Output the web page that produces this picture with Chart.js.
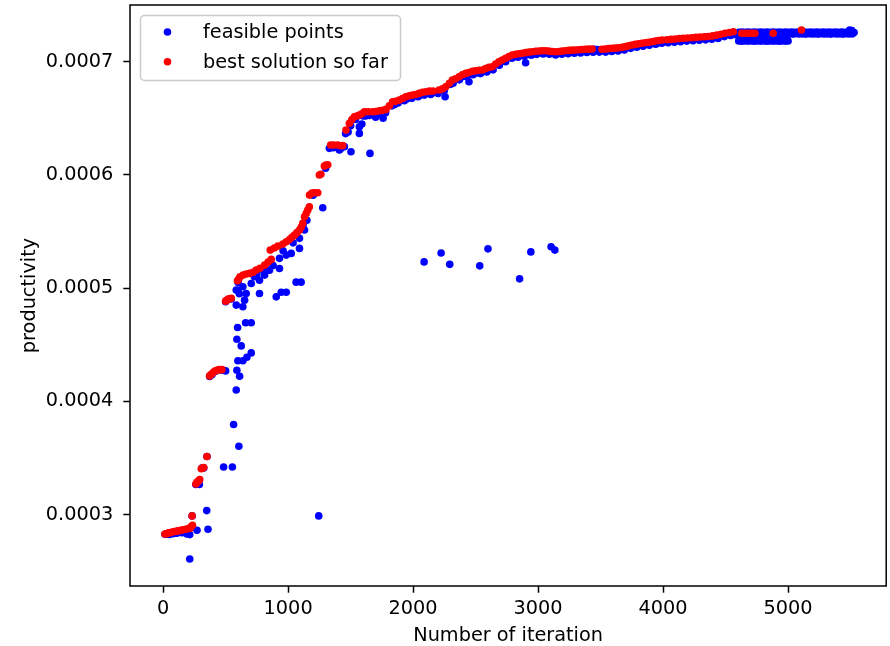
<!DOCTYPE html>
<html>
<head>
<meta charset="utf-8">
<script src="https://cdn.jsdelivr.net/npm/chart.js@4"></script>
<style>
  html, body { margin: 0; padding: 0; background: #fff; }
</style>
</head>
<body>
<canvas id="scatter" width="890" height="646"></canvas>
<script>
const xTicks = [0, 1000, 2000, 3000, 4000, 5000];
const yTicks = [0.0003, 0.0004, 0.0005, 0.0006, 0.0007];
const xRange = [-265, 5785];
const yRange = [0.0002369, 0.0007501];

const seriesNames = ['feasible points', 'best solution so far'];

// [iteration, productivity]
const feasiblePoints = [
  [15,0.0002826],[30,0.000283],[50,0.0002825],[65,0.0002838],[80,0.000283],[100,0.0002845],[110,0.0002835],
  [130,0.0002852],[150,0.000284],[170,0.0002858],[190,0.0002828],[200,0.000287],[213,0.0002823],[213,0.0002608],
  [225,0.000289],[232,0.0002988],[271,0.0002861],[349,0.0003035],[359,0.000287],
  [262,0.0003265],[280,0.000328],[290,0.0003265],[310,0.000341],[325,0.0003412],[351,0.0003513],
  [484,0.000342],[554,0.000342],[564,0.0003795],[606,0.0003604],[585,0.00041],
  [372,0.000422],[390,0.0004235],[420,0.0004265],[450,0.0004278],[480,0.0004275],[500,0.0004269],
  [590,0.0004275],[612,0.0004222],[598,0.0004358],[638,0.0004358],[670,0.000439],[705,0.0004428],
  [590,0.0004548],[625,0.000449],[596,0.0004653],[660,0.0004694],[705,0.0004694],
  [500,0.000488],[520,0.00049],[545,0.0004905],[585,0.000485],[585,0.0004983],[598,0.000498],[600,0.000505],
  [610,0.000495],[638,0.0004835],[638,0.0005012],[652,0.0004894],[665,0.0004953],[705,0.0005041],
  [730,0.00051],[750,0.000512],[771,0.0004953],[771,0.000507],[800,0.000516],[812,0.0005115],[851,0.0005159],
  [880,0.00052],[905,0.0004923],[931,0.0005174],[931,0.0005263],[945,0.0004964],[960,0.000533],[985,0.0004964],
  [985,0.0005292],[1025,0.0005307],[1040,0.00054],[1064,0.0005053],[1091,0.0005351],[1091,0.000544],
  [1104,0.0005053],[1120,0.000556],[1131,0.0005513],[1150,0.00056],[1200,0.000582],[1245,0.0002988],
  [1277,0.000571],[1300,0.000606],[1380,0.0006245],[1410,0.000622],[1450,0.000625],[1480,0.000638],
  [1503,0.0006205],[1570,0.0006425],[1570,0.0006367],[1590,0.000645],[1620,0.000652],[1655,0.000619],
  [1700,0.000651],[1760,0.00065],[1850,0.000662],[1950,0.000667],[2050,0.00067],[2150,0.000672],
  [2256,0.000669],[2300,0.00068],[2400,0.000687],[2447,0.0006823],[2520,0.00069],[2600,0.000693],
  [2700,0.0007],[2800,0.000704],[2900,0.0006991],[2950,0.000706],[3050,0.000708],[3150,0.000707],
  [3250,0.000709],[3350,0.00071],[3450,0.000711],[3480,0.0007108],[3550,0.00071],[3650,0.000711],
  [3750,0.000713],[3850,0.000715],[3950,0.000716],[4050,0.0007185],[4150,0.00072],[4250,0.000721],
  [4350,0.000722],[4450,0.000723],[4550,0.000725],
  // just under the best-so-far front
  [1330,0.0006235],[1360,0.000624],[1420,0.0006232],[1460,0.0006365],[1500,0.0006435],[1540,0.000649],
  [1600,0.000652],[1650,0.0006525],[1720,0.0006535],[1780,0.000655],[1830,0.000661],[1880,0.0006635],
  [1930,0.0006655],[1990,0.0006678],[2040,0.000669],[2090,0.0006705],[2140,0.000671],[2200,0.000672],
  [2250,0.0006745],[2320,0.000681],[2370,0.000684],[2430,0.0006868],[2480,0.0006885],[2540,0.0006895],
  [2590,0.000691],[2640,0.0006928],[2690,0.0006968],[2740,0.0007],[2790,0.000703],[2840,0.000704],
  [2890,0.0007048],[2940,0.000706],[2990,0.0007065],[3040,0.0007068],[3090,0.0007066],[3140,0.000706],
  [3190,0.0007066],[3240,0.000707],[3290,0.0007075],[3340,0.0007078],[3390,0.0007082],[3440,0.0007084],
  [3490,0.0007085],[3540,0.0007085],[3590,0.000709],[3640,0.0007095],[3690,0.0007103],[3740,0.0007118],
  [3790,0.0007128],[3840,0.0007136],[3890,0.0007145],[3940,0.0007155],[3990,0.0007163],[4040,0.0007167],
  [4090,0.0007172],[4140,0.0007177],[4190,0.0007182],[4240,0.0007185],[4290,0.000719],[4340,0.0007193],
  [4390,0.0007198],[4440,0.0007206],[4490,0.0007222],[4540,0.0007232],[4580,0.0007238],
  // scattered feasible points below the front
  [2088,0.0005232],[2224,0.000531],[2293,0.000521],[2533,0.0005197],[2599,0.0005347],
  [2852,0.0005082],[2942,0.000532],[3104,0.0005365],[3134,0.0005336],
  // plateau at the end
  [4605,0.000726],[4630,0.0007262],[4655,0.0007259],[4680,0.0007261],[4705,0.000726],[4730,0.0007263],
  [4755,0.0007259],[4780,0.0007261],[4805,0.000726],[4830,0.0007262],[4855,0.0007259],[4880,0.0007261],
  [4905,0.000726],[4930,0.0007263],[4955,0.0007259],[4980,0.0007261],[5005,0.000726],[5030,0.0007262],
  [5055,0.0007259],[5080,0.0007261],[5105,0.000726],[5130,0.0007263],[5155,0.0007259],[5180,0.0007261],
  [5205,0.000726],[5230,0.0007262],[5255,0.0007259],[5280,0.0007261],[5305,0.000726],[5330,0.0007263],
  [5355,0.0007259],[5380,0.0007261],[5405,0.000726],[5430,0.0007262],[5455,0.0007259],[5480,0.0007261],
  [5505,0.000726],[5528,0.0007258],[5493,0.000728],[5510,0.0007276],
  [4615,0.0007246],[4640,0.0007244],[4665,0.0007247],[4690,0.0007245],[4715,0.0007246],[4740,0.0007244],
  [4765,0.0007247],[4790,0.0007245],[4815,0.0007246],[4840,0.0007244],[4865,0.0007247],[4890,0.0007245],
  [4915,0.0007246],[4940,0.0007244],[4965,0.0007247],[4990,0.0007245],[5015,0.0007246],[5040,0.0007244],
  [5065,0.0007247],[5090,0.0007245],[5115,0.0007246],[5140,0.0007244],[5165,0.0007247],[5190,0.0007245],
  [5215,0.0007246],[5240,0.0007244],[5265,0.0007247],[5290,0.0007245],[5315,0.0007246],[5340,0.0007244],
  [5365,0.0007247],[5390,0.0007245],[5415,0.0007246],[5440,0.0007244],[5465,0.0007247],[5490,0.0007245],
  [5515,0.0007246],
  [4610,0.0007228],[4635,0.000723],[4660,0.0007227],[4685,0.0007231],[4710,0.0007229],[4735,0.0007228],
  [4760,0.000723],[4785,0.0007227],[4810,0.0007231],[4835,0.0007229],[4860,0.0007228],[4885,0.000723],
  [4910,0.0007227],[4935,0.0007231],[4960,0.0007229],[4985,0.0007228],
  [4612,0.0007205],[4637,0.0007203],[4662,0.0007206],[4687,0.0007204],[4712,0.0007205],[4737,0.0007203],
  [4762,0.0007206],[4787,0.0007204],[4812,0.0007205],[4837,0.0007203],[4862,0.0007206],[4887,0.0007204],
  [4912,0.0007205],[4937,0.0007203],[4962,0.0007206],[4990,0.0007204],
  [4605,0.0007183],[4630,0.0007181],[4655,0.0007184],[4680,0.0007182],[4705,0.0007183],[4730,0.0007181],
  [4755,0.0007184],[4780,0.0007182],[4805,0.0007183],[4830,0.0007181],[4855,0.0007184],[4880,0.0007182],
  [4905,0.0007183],[4930,0.0007181],[4955,0.0007184],[4980,0.0007182],[5000,0.0007183]
];

const bestPoints = [
  [15,0.0002828],[30,0.0002832],[45,0.0002838],[60,0.0002842],[75,0.0002846],[90,0.000285],[105,0.0002853],
  [120,0.0002857],[140,0.000286],[160,0.0002866],[180,0.000287],[200,0.0002875],[215,0.000288],
  [225,0.0002895],[235,0.0002905],[232,0.0002988],
  [262,0.000327],[270,0.0003285],[282,0.0003295],[293,0.000331],[305,0.0003405],[315,0.000341],
  [325,0.0003415],[351,0.0003513],
  [372,0.0004225],[385,0.000424],[400,0.0004255],[415,0.0004268],[430,0.0004275],[450,0.000428],[470,0.000428],
  [500,0.0004885],[510,0.0004895],[525,0.0004905],[545,0.000491],[595,0.0005065],[605,0.000508],[615,0.00051],
  [640,0.0005115],[665,0.0005125],[692,0.000513],[720,0.000514],[745,0.000516],[775,0.0005175],[812,0.0005203],
  [840,0.000523],[865,0.0005254],[857,0.0005336],[890,0.0005355],[918,0.0005371],[958,0.0005389],[985,0.000541],
  [1011,0.000543],[1030,0.000545],[1051,0.0005468],[1070,0.000549],[1091,0.0005513],[1105,0.000554],
  [1117,0.0005572],[1131,0.000563],[1145,0.000566],[1157,0.0005689],[1170,0.0005718],[1171,0.0005822],
  [1190,0.000584],[1210,0.0005842],[1237,0.0005842],[1250,0.0006],[1262,0.0006005],[1290,0.0006078],
  [1304,0.0006087],[1317,0.000609],[1340,0.0006264],[1365,0.0006264],[1397,0.0006264],[1424,0.0006258],
  [1437,0.000626],[1463,0.0006396],[1490,0.0006456],[1510,0.000649],[1530,0.0006514],[1550,0.000652],
  [1570,0.0006529],[1590,0.000654],[1610,0.0006558],[1640,0.0006558],[1676,0.0006558],[1700,0.000656],
  [1729,0.0006567],[1755,0.000657],[1783,0.0006579],[1810,0.000661],[1836,0.0006646],[1860,0.000665],
  [1889,0.0006661],[1915,0.0006675],[1942,0.000669],[1970,0.00067],[1995,0.0006706],[2020,0.000671],
  [2048,0.000672],[2075,0.000673],[2102,0.0006735],[2130,0.000674],[2160,0.0006742],[2208,0.000675],
  [2235,0.000676],[2261,0.0006779],[2290,0.000681],[2314,0.0006838],[2340,0.000685],[2368,0.0006867],
  [2394,0.0006885],[2421,0.0006897],[2447,0.0006905],[2474,0.0006915],[2500,0.000692],[2527,0.0006925],
  [2554,0.0006927],[2580,0.000694],[2606,0.000695],[2633,0.0006956],[2660,0.000698],[2686,0.0007],
  [2713,0.0007015],[2740,0.000703],[2766,0.0007045],[2793,0.0007059],[2820,0.0007065],[2846,0.000707],
  [2873,0.0007074],[2900,0.000708],[2926,0.0007085],[2953,0.0007088],[2980,0.0007092],[3006,0.0007095],
  [3032,0.0007097],[3059,0.0007097],[3085,0.0007094],[3112,0.000709],[3139,0.0007088],[3166,0.000709],
  [3192,0.0007094],[3219,0.0007097],[3246,0.00071],[3272,0.0007102],[3299,0.0007103],[3326,0.0007106],
  [3352,0.0007108],[3379,0.000711],[3405,0.0007111],[3432,0.0007112],[3511,0.000711],[3538,0.0007113],
  [3564,0.0007116],[3591,0.0007118],[3618,0.000712],[3644,0.0007124],[3671,0.0007127],[3698,0.0007133],
  [3724,0.000714],[3751,0.0007148],[3777,0.0007153],[3804,0.0007158],[3830,0.0007163],[3857,0.0007168],
  [3884,0.0007172],[3910,0.0007177],[3937,0.0007182],[3964,0.0007187],[3990,0.0007192],[4030,0.0007194],
  [4063,0.0007197],[4097,0.00072],[4130,0.0007204],[4163,0.0007207],[4197,0.000721],[4230,0.0007212],
  [4263,0.0007215],[4296,0.0007218],[4330,0.000722],[4363,0.0007223],[4396,0.0007228],[4430,0.0007235],
  [4463,0.0007242],[4496,0.0007251],[4530,0.0007258],[4562,0.0007265],[4628,0.0007251],[4655,0.0007251],
  [4682,0.0007251],[4710,0.0007251],[4735,0.0007251],[4881,0.0007251],[5107,0.000728]
];

const blue = '#0000ff';
const red = '#ff0000';
const fontSize = 19.3;
const dotRadius = 3.8;

Chart.defaults.font.family = '"DejaVu Sans", sans-serif';
Chart.defaults.color = '#000';

const toXY = pts => pts.map(p => ({ x: p[0], y: p[1] }));

// matplotlib-like frame and legend box
const frameAndLegend = {
  id: 'frameAndLegend',
  afterDraw(chart) {
    const c = chart.ctx;
    const a = chart.chartArea;
    c.save();
    c.strokeStyle = '#000';
    c.lineWidth = 1.5;
    c.strokeRect(a.left, a.top, a.right - a.left, a.bottom - a.top);

    c.beginPath();
    c.roundRect(140.5, 15.5, 260, 65, 4);
    c.fillStyle = 'rgba(255,255,255,0.8)';
    c.fill();
    c.strokeStyle = '#cccccc';
    c.lineWidth = 1.5;
    c.stroke();

    const colors = [blue, red];
    const rows = [32, 61.7];
    c.font = fontSize + 'px "DejaVu Sans"';
    c.textBaseline = 'middle';
    c.textAlign = 'left';
    seriesNames.forEach((name, i) => {
      c.beginPath();
      c.arc(167.5, rows[i], dotRadius, 0, Math.PI * 2);
      c.fillStyle = colors[i];
      c.fill();
      c.fillStyle = '#000';
      c.fillText(name, 203, rows[i] + 1);
    });
    c.restore();
  }
};

new Chart(document.getElementById('scatter'), {
  type: 'scatter',
  data: {
    datasets: [{
      label: seriesNames[0],
      data: toXY(feasiblePoints),
      backgroundColor: blue,
      borderWidth: 0,
      pointRadius: dotRadius,
      pointHoverRadius: dotRadius,
      order: 1
    }, {
      label: seriesNames[1],
      data: toXY(bestPoints),
      backgroundColor: red,
      borderWidth: 0,
      pointRadius: dotRadius,
      pointHoverRadius: dotRadius,
      order: 0
    }]
  },
  options: {
    responsive: false,
    animation: false,
    layout: { padding: { top: 5, right: -2, left: 0, bottom: 0 } },
    plugins: { legend: { display: false }, tooltip: { enabled: false } },
    scales: {
      x: {
        type: 'linear',
        min: xRange[0],
        max: xRange[1],
        afterFit(s) { s.height = 60; s.paddingLeft = 0; s.paddingRight = 0; },
        afterBuildTicks(s) { s.ticks = xTicks.map(v => ({ value: v })); },
        ticks: { callback: v => String(v), font: { size: fontSize }, color: '#000', padding: 5, maxRotation: 0 },
        grid: { drawOnChartArea: false, drawTicks: true, tickLength: 6.7, tickWidth: 1.5, color: '#000' },
        border: { display: false },
        title: { display: true, text: 'Number of iteration', font: { size: fontSize }, color: '#000', padding: { top: 0, bottom: -2 } }
      },
      y: {
        type: 'linear',
        min: yRange[0],
        max: yRange[1],
        afterFit(s) { s.width = 130; s.paddingTop = 0; s.paddingBottom = 0; },
        afterBuildTicks(s) { s.ticks = yTicks.map(v => ({ value: v })); },
        ticks: { callback: v => v.toFixed(4), font: { size: fontSize }, color: '#000', padding: 10 },
        grid: { drawOnChartArea: false, drawTicks: true, tickLength: 6.7, tickWidth: 1.5, color: '#000' },
        border: { display: false },
        title: { display: true, text: 'productivity', font: { size: fontSize }, color: '#000', padding: { top: 18, bottom: 0 } }
      }
    }
  },
  plugins: [frameAndLegend]
});
</script>
</body>
</html>
